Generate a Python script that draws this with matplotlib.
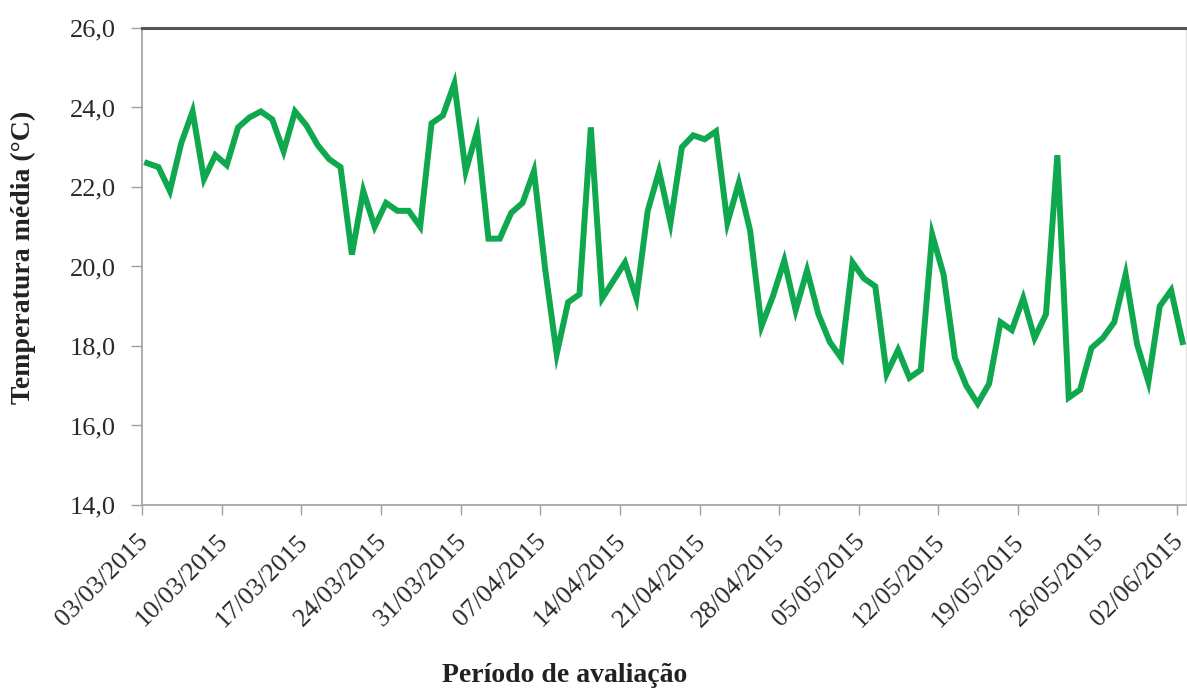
import numpy as np
import pandas as pd
import matplotlib
matplotlib.use("Agg")
import matplotlib.pyplot as plt
import matplotlib.transforms as mtransforms

# daily mean temperature, 03/03/2015 .. 02/06/2015
dates = pd.date_range("2015-03-03", "2015-06-02", freq="D")
temp = [22.6, 22.5, 21.9, 23.1, 23.9, 22.2, 22.8, 22.55, 23.5, 23.75,
        23.9, 23.7, 22.9, 23.9, 23.55, 23.05, 22.7, 22.5, 20.3, 21.9,
        21.0, 21.6, 21.4, 21.4, 21.0, 23.6, 23.8, 24.6, 22.4, 23.4,
        20.7, 20.7, 21.35, 21.6, 22.4, 19.9, 17.8, 19.1, 19.3, 23.5,
        19.2, 19.65, 20.1, 19.2, 21.4, 22.4, 21.1, 23.0, 23.3, 23.2,
        23.4, 21.1, 22.1, 20.9, 18.5, 19.25, 20.15, 18.9, 19.9, 18.8,
        18.1, 17.7, 20.1, 19.7, 19.5, 17.3, 17.9, 17.2, 17.4, 20.8,
        19.8, 17.7, 17.0, 16.55, 17.05, 18.6, 18.4, 19.2, 18.2, 18.8,
        22.8, 16.7, 16.9, 17.95, 18.2, 18.6, 19.8, 18.05, 17.1, 19.0,
        19.4, 18.1]
yticks = [14, 16, 18, 20, 22, 24, 26]

x = np.arange(len(dates))
tick_idx = np.arange(0, len(dates), 7)
tick_labels = [dates[i].strftime("%d/%m/%Y") for i in tick_idx]

plt.rcParams['font.family'] = ['Liberation Serif', 'DejaVu Serif']

fig = plt.figure(figsize=(11.87, 6.91), dpi=100)
ax = fig.add_axes([0.1196, 0.2692, 0.8795, 0.6903])

ax.plot(x, temp, color='#0fa84f', linewidth=4.3, solid_joinstyle='miter')

ax.set_xlim(-0.4, 91.3)
ax.set_ylim(14, 26)

ax.set_yticks(yticks)
ax.set_yticklabels([f"{v:.1f}".replace('.', ',') for v in yticks], fontsize=19)
ax.set_xticks(tick_idx - 0.45)
ax.set_xticklabels(tick_labels, fontsize=19, rotation=45, ha='right',
                   va='baseline', rotation_mode='anchor')

ax.tick_params(axis='both', direction='out', width=1, colors='#a0a0a0',
               labelcolor='#2a2a2a')
ax.tick_params(axis='y', length=8, pad=11)
ax.tick_params(axis='x', length=7, pad=20)

# push the slanted date labels a bit to the right, like the original
offset = mtransforms.ScaledTranslation(7 / 100, 0, fig.dpi_scale_trans)
for lab in ax.xaxis.get_majorticklabels():
    lab.set_transform(lab.get_transform() + offset)

for s in ['left', 'bottom']:
    ax.spines[s].set_color('#a0a0a0')
    ax.spines[s].set_linewidth(1.2)
ax.spines['right'].set_color('#e0e0e0')
ax.spines['top'].set_color('#555555')
ax.spines['top'].set_linewidth(2.2)

fig.text(0.02, 0.627, 'Temperatura média (°C)', rotation=90, fontsize=20,
         fontweight='bold', color='#222222', ha='center', va='center')
fig.text(0.476, 0.023, 'Período de avaliação', fontsize=20,
         fontweight='bold', color='#222222', ha='center', va='center')

fig.savefig('out.png', dpi=100)
